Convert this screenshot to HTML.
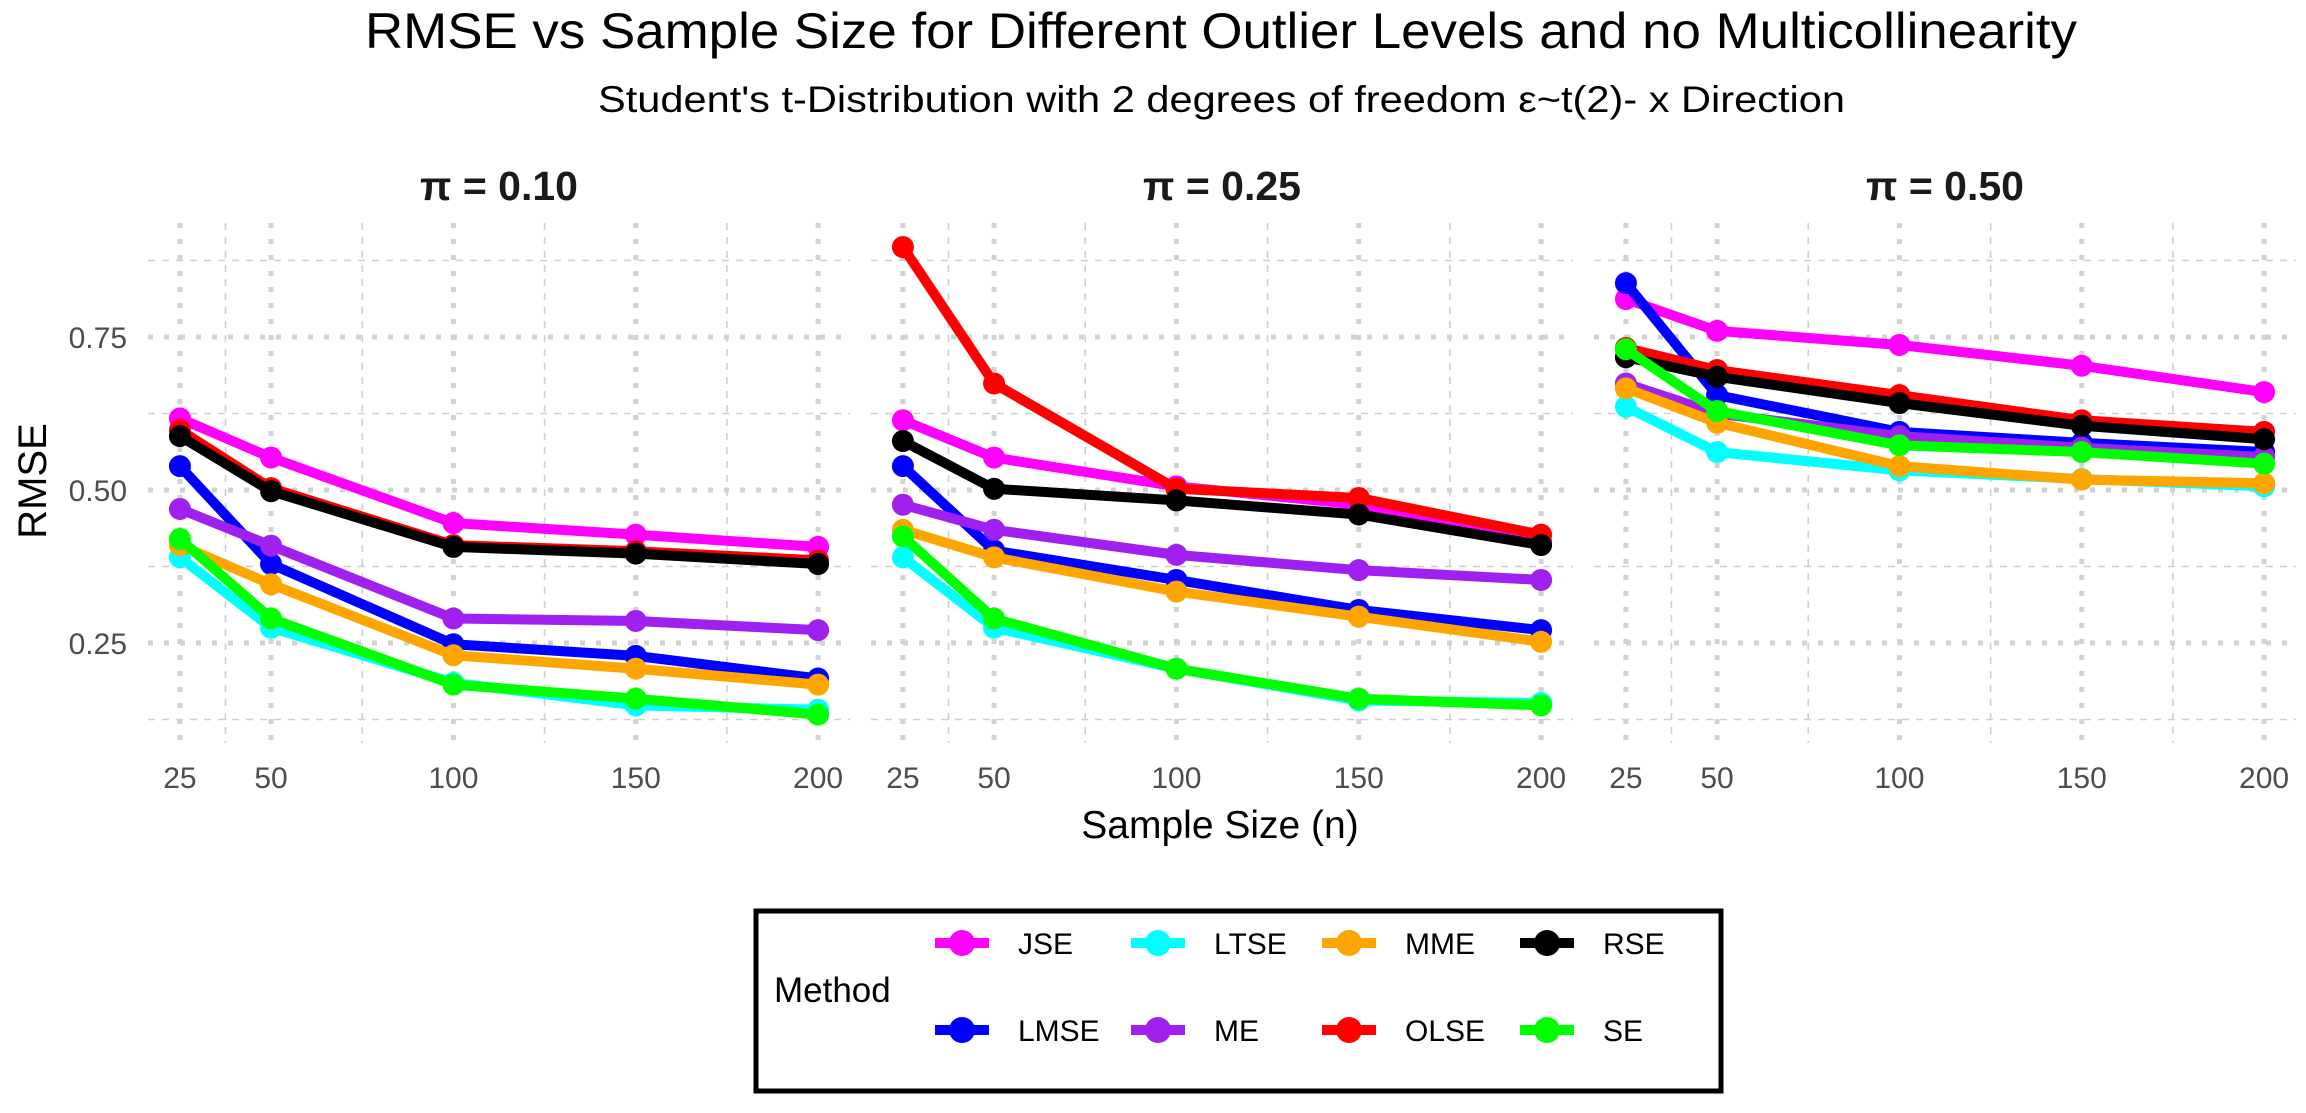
<!DOCTYPE html>
<html><head><meta charset="utf-8"><style>
html,body{margin:0;padding:0;background:#fff;}
svg{display:block;font-family:"Liberation Sans",Arial,sans-serif;}
</style></head><body>
<svg id="chart" width="2306" height="1113" viewBox="0 0 2306 1113" xmlns="http://www.w3.org/2000/svg">
<rect width="2306" height="1113" fill="#fff"/>
<text x="365" y="48" font-size="50" textLength="1712" lengthAdjust="spacingAndGlyphs" fill="#000">RMSE vs Sample Size for Different Outlier Levels and no Multicollinearity</text>
<text x="598" y="112" font-size="37" textLength="1247" lengthAdjust="spacingAndGlyphs" fill="#000">Student's t-Distribution with 2 degrees of freedom ε~t(2)- x Direction</text>
<text transform="translate(46,481) rotate(-90)" text-anchor="middle" font-size="40" fill="#000">RMSE</text>
<text x="1220" y="838" text-anchor="middle" font-size="39" fill="#000">Sample Size (n)</text>
<g id="panels"></g>
<g id="legend">
<rect x="756" y="911" width="965" height="180" fill="#fff" stroke="#000" stroke-width="5"/>
<text x="774" y="1002" font-size="35" fill="#000">Method</text>
</g>
</svg>
<script>
const NS='http://www.w3.org/2000/svg';
const sampleSizes=[25,50,100,150,200];
const methods=['JSE','LMSE','LTSE','ME','MME','OLSE','RSE','SE'];
const colors=['#ff00ff','#0000ff','#00ffff','#a020f0','#ffa500','#ff0000','#000000','#00ff00'];
const panelTitles=['π = 0.10','π = 0.25','π = 0.50'];
const yTickValues=[0.25,0.5,0.75];
const yTickLabels=['0.25','0.50','0.75'];
const xTickLabels=['25','50','100','150','200'];
const p10JSE=[0.617,0.553,0.446,0.427,0.407];
const p10LMSE=[0.539,0.379,0.248,0.229,0.192];
const p10LTSE=[0.39,0.275,0.185,0.148,0.141];
const p10ME=[0.469,0.409,0.29,0.286,0.271];
const p10MME=[0.41,0.346,0.23,0.208,0.182];
const p10OLSE=[0.598,0.503,0.41,0.40,0.385];
const p10RSE=[0.588,0.498,0.407,0.396,0.379];
const p10SE=[0.42,0.29,0.182,0.159,0.133];
const p25JSE=[0.614,0.553,0.506,0.476,0.416];
const p25LMSE=[0.539,0.401,0.353,0.304,0.271];
const p25LTSE=[0.39,0.275,0.208,0.156,0.152];
const p25ME=[0.476,0.435,0.394,0.369,0.353];
const p25MME=[0.435,0.39,0.334,0.293,0.252];
const p25OLSE=[0.897,0.674,0.502,0.487,0.427];
const p25RSE=[0.58,0.502,0.483,0.46,0.41];
const p25SE=[0.424,0.29,0.208,0.159,0.148];
const p50JSE=[0.812,0.76,0.737,0.703,0.66];
const p50LMSE=[0.838,0.655,0.595,0.577,0.562];
const p50LTSE=[0.636,0.562,0.532,0.518,0.506];
const p50ME=[0.674,0.625,0.588,0.569,0.554];
const p50MME=[0.666,0.61,0.539,0.517,0.511];
const p50OLSE=[0.732,0.696,0.655,0.614,0.595];
const p50RSE=[0.717,0.685,0.642,0.605,0.583];
const p50SE=[0.73,0.629,0.573,0.562,0.543];
const panelData=[
 [p10JSE,p10LMSE,p10LTSE,p10ME,p10MME,p10OLSE,p10RSE,p10SE],
 [p25JSE,p25LMSE,p25LTSE,p25ME,p25MME,p25OLSE,p25RSE,p25SE],
 [p50JSE,p50LMSE,p50LTSE,p50ME,p50MME,p50OLSE,p50RSE,p50SE]];

const panelLefts=[148,871,1594], panelW=702, plotTop=223, plotBot=743;
const xMin=16.25,xMax=208.75;
function xs(p,v){return panelLefts[p]+(v-xMin)/(xMax-xMin)*panelW;}
function ys(v){return 490-(v-0.5)*612;}
function mk(tag,attrs,parent){const e=document.createElementNS(NS,tag);for(const k in attrs)e.setAttribute(k,attrs[k]);parent.appendChild(e);return e;}
const panels=document.getElementById('panels');
const yMinor=[0.125,0.375,0.625,0.875];
const xMinor=[37.5,75,125,175];
for(let p=0;p<3;p++){
  const g=mk('g',{},panels);
  
  
  const L=panelLefts[p],R=L+panelW;
  yMinor.forEach(v=>{const l=mk('line',{x1:L,x2:R,y1:ys(v),y2:ys(v),stroke:'#cfcfcf','stroke-width':1.6,'stroke-dasharray':'7 7'},g);
    
    });
  xMinor.forEach(v=>{const l=mk('line',{x1:xs(p,v),x2:xs(p,v),y1:plotTop,y2:plotBot,stroke:'#cfcfcf','stroke-width':1.6,'stroke-dasharray':'7 7'},g);
    
    });
  yTickValues.forEach(v=>{const l=mk('line',{x1:L,x2:R,y1:ys(v),y2:ys(v),stroke:'#d2d2d2','stroke-width':5,'stroke-dasharray':'5 11'},g);
    
    });
  sampleSizes.forEach((v,i)=>{const l=mk('line',{x1:xs(p,v),x2:xs(p,v),y1:plotTop,y2:plotBot,stroke:'#d2d2d2','stroke-width':5,'stroke-dasharray':'5 11'},g);
    
    
    const t=mk('text',{x:xs(p,v),y:788,'text-anchor':'middle','font-size':30,fill:'#4d4d4d'},g);t.textContent=xTickLabels[i];
    
    });
  const ft=mk('text',{x:L+panelW/2,y:200,'text-anchor':'middle','font-size':41,'font-weight':'bold',fill:'#1a1a1a'},g);ft.textContent=panelTitles[p];
  
  
  panelData[p].forEach((vals,m)=>{
    const pts=vals.map((v,i)=>xs(p,sampleSizes[i])+','+ys(v)).join(' ');
    const pl=mk('polyline',{points:pts,fill:'none',stroke:colors[m],'stroke-width':10,'stroke-linejoin':'round'},g);
    
    
    vals.forEach((v,i)=>{const c=mk('circle',{cx:xs(p,sampleSizes[i]),cy:ys(v),r:11,fill:colors[m]},g);
      
      });
  });
}
const svg=document.getElementById('chart');
yTickValues.forEach((v,i)=>{const t=mk('text',{x:127,y:ys(v)+11,'text-anchor':'end','font-size':30,fill:'#4d4d4d'},svg);t.textContent=yTickLabels[i];
  
  });
const lg=document.getElementById('legend');
const colX=[962,1158,1349,1547], rowY=[943,1030];
methods.forEach((m,i)=>{
  const col=Math.floor(i/2), row=i%2;
  const cx=colX[col], cy=rowY[row];
  const e=mk('g',{},lg);
  
  
  mk('line',{x1:cx-27,x2:cx+27,y1:cy,y2:cy,stroke:colors[i],'stroke-width':10},e);
  mk('circle',{cx:cx,cy:cy,r:13,fill:colors[i]},e);
  const t=mk('text',{x:cx+56,y:cy+11,'font-size':30,fill:'#000'},e);t.textContent=m;
});
</script>
</body></html>
